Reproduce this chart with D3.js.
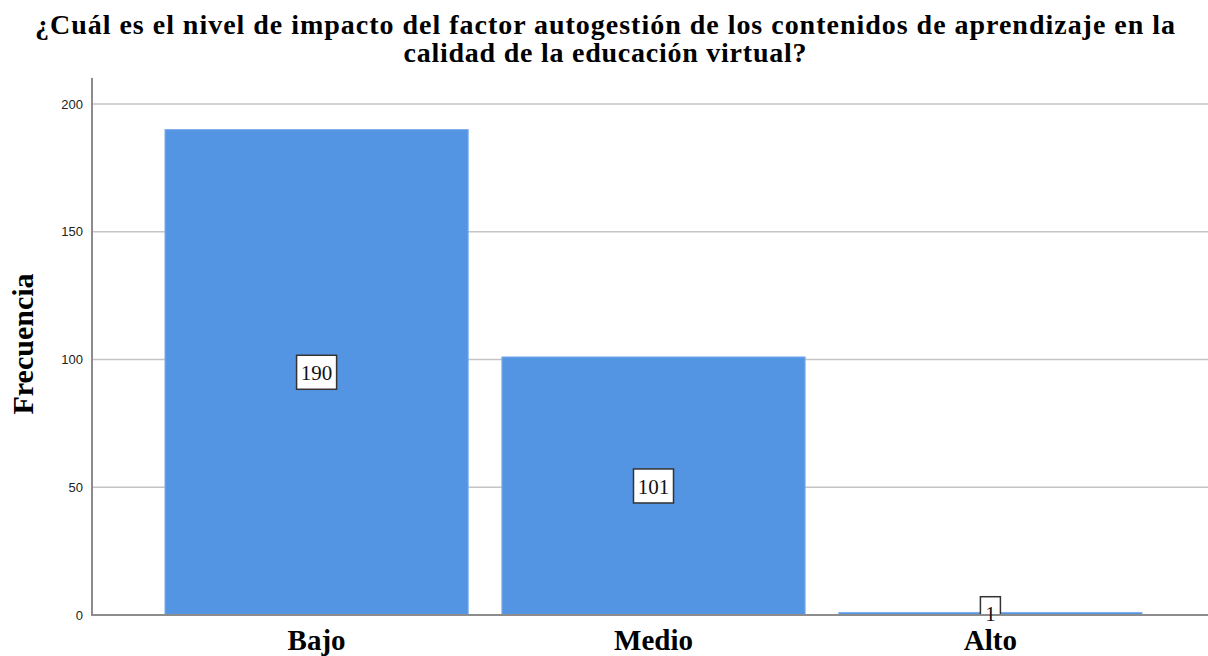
<!DOCTYPE html>
<html>
<head>
<meta charset="utf-8">
<script src="https://cdn.jsdelivr.net/npm/d3@7"></script>
<style>
  body { margin: 0; background: #fff; }
  svg { display: block; }
</style>
</head>
<body>
<div id="chart"></div>
<script>
// data
const categories = ["Bajo", "Medio", "Alto"];
const frequencies = [190, 101, 1];
const yTicks = [0, 50, 100, 150, 200];
const titleLines = [
  "¿Cuál es el nivel de impacto del factor autogestión de los contenidos de aprendizaje en la",
  "calidad de la educación virtual?"
];
const yLabel = "Frecuencia";

const W = 1208, H = 656;
const plot = { left: 92, top: 78, right: 1208, bottom: 615 };
const serif = "'Liberation Serif', 'Times New Roman', serif";

const svg = d3.select("#chart").append("svg")
  .attr("width", W)
  .attr("height", H);

const x = d3.scaleBand()
  .domain(categories)
  .range([plot.left, 1215])
  .paddingInner(0.1)
  .paddingOuter(0.2166);

const y = d3.scaleLinear()
  .domain([0, 200])
  .range([plot.bottom, 104]);

// title, fitted to the measured line widths
const titleWidths = [1140, 403];
svg.append("g")
  .selectAll("text")
  .data(titleLines)
  .join("text")
  .attr("x", 605)
  .attr("y", (d, i) => 34 + i * 28)
  .attr("text-anchor", "middle")
  .attr("textLength", (d, i) => titleWidths[i])
  .attr("lengthAdjust", "spacing")
  .style("font-family", serif)
  .style("font-weight", "bold")
  .style("font-size", "28px")
  .text(d => d);

// gridlines
svg.append("g")
  .selectAll("line")
  .data(yTicks.filter(t => t > 0))
  .join("line")
  .attr("x1", plot.left)
  .attr("x2", plot.right)
  .attr("y1", d => y(d))
  .attr("y2", d => y(d))
  .attr("stroke", "#c4c4c4")
  .attr("stroke-width", 1.5);

// y axis ticks
const yAxis = svg.append("g")
  .attr("transform", `translate(${plot.left},0)`)
  .call(d3.axisLeft(y).tickValues(yTicks).tickSize(0).tickPadding(9));
yAxis.select(".domain").remove();
yAxis.selectAll("text")
  .style("font-family", "'Liberation Sans', Arial, sans-serif")
  .style("font-size", "13px")
  .attr("fill", "#222");

// bars
svg.append("g")
  .selectAll("rect")
  .data(frequencies)
  .join("rect")
  .attr("x", (d, i) => x(categories[i]))
  .attr("y", d => y(d))
  .attr("width", x.bandwidth())
  .attr("height", d => y(0) - y(d))
  .attr("fill", "#5495e3")
  .attr("stroke", "#7fb0ec")
  .attr("stroke-width", 1);

// value labels; the boxes get clipped at the x axis
svg.append("clipPath").attr("id", "plotClip")
  .append("rect")
  .attr("x", plot.left).attr("y", plot.top)
  .attr("width", plot.right - plot.left)
  .attr("height", plot.bottom - plot.top);

const cx = (d, i) => x(categories[i]) + x.bandwidth() / 2;
const cy = d => (y(0) + y(d)) / 2;
const boxW = d => String(d).length * 10 + 10;

svg.append("g")
  .attr("clip-path", "url(#plotClip)")
  .selectAll("rect")
  .data(frequencies)
  .join("rect")
  .attr("x", (d, i) => cx(d, i) - boxW(d) / 2)
  .attr("y", d => cy(d) - 17)
  .attr("width", boxW)
  .attr("height", 34)
  .attr("fill", "#fff")
  .attr("stroke", "#333")
  .attr("stroke-width", 1.5);

// axis lines
svg.append("line")
  .attr("x1", plot.left).attr("x2", plot.left)
  .attr("y1", plot.top).attr("y2", plot.bottom + 1)
  .attr("stroke", "#8c8c8c").attr("stroke-width", 2);
svg.append("line")
  .attr("x1", plot.left).attr("x2", plot.right)
  .attr("y1", plot.bottom).attr("y2", plot.bottom)
  .attr("stroke", "#8c8c8c").attr("stroke-width", 2);

svg.append("g")
  .selectAll("text")
  .data(frequencies)
  .join("text")
  .attr("x", cx)
  .attr("y", cy)
  .attr("text-anchor", "middle")
  .attr("dy", "0.36em")
  .style("font-family", serif)
  .style("font-size", "21px")
  .attr("fill", "#111")
  .text(d => d);

// x category labels
svg.append("g")
  .selectAll("text")
  .data(categories)
  .join("text")
  .attr("x", d => x(d) + x.bandwidth() / 2)
  .attr("y", 650)
  .attr("text-anchor", "middle")
  .style("font-family", serif)
  .style("font-weight", "bold")
  .style("font-size", "29px")
  .text(d => d);

// y axis title
svg.append("text")
  .attr("transform", "translate(33,344) rotate(-90)")
  .attr("text-anchor", "middle")
  .style("font-family", serif)
  .style("font-weight", "bold")
  .style("font-size", "30px")
  .text(yLabel);
</script>
</body>
</html>
